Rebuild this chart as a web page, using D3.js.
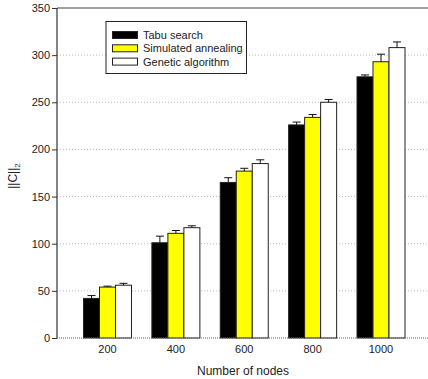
<!DOCTYPE html>
<html>
<head>
<meta charset="utf-8">
<script src="https://cdn.jsdelivr.net/npm/d3@7"></script>
<style>
  body { margin: 0; background: #fff; }
  svg { display: block; font-family: Arial, "Liberation Sans", sans-serif; }
</style>
</head>
<body>
<div id="chart"></div>
<script>
const nodes = ["200", "400", "600", "800", "1000"];
const methods = ["Tabu search", "Simulated annealing", "Genetic algorithm"];
const tabu = [42, 101, 165, 226, 277];
const annealing = [54, 111, 177, 234, 293];
const genetic = [56, 117, 185, 250, 308];
const tabuErr = [3, 7, 5, 3, 2];
const annealingErr = [1, 3, 3, 3, 8];
const geneticErr = [2, 2, 4, 3, 6];
const yTicks = [0, 50, 100, 150, 200, 250, 300, 350];
const colors = ["#000000", "#ffff00", "#ffffff"];

const W = 428, H = 379;
const plot = { left: 57, top: 8, right: 428, bottom: 338 };

const svg = d3.select("#chart").append("svg")
  .attr("width", W).attr("height", H);

const y = d3.scaleLinear().domain([0, 350]).range([plot.bottom, plot.top]);
const xc = d3.scalePoint().domain(nodes).range([107.5, 381]);
const xs = d3.scaleBand().domain(methods).range([-24, 24]);

// grid
svg.append("g").selectAll("line")
  .data(yTicks.filter(t => t > 0 && t < 350))
  .join("line")
  .attr("x1", plot.left).attr("x2", plot.right)
  .attr("y1", d => y(d)).attr("y2", d => y(d))
  .attr("stroke", "#bbb").attr("stroke-dasharray", "1,2");

// y axis
const yAxis = svg.append("g")
  .attr("transform", `translate(${plot.left},0)`)
  .call(d3.axisLeft(y).tickValues(yTicks).tickSize(5).tickPadding(2));
yAxis.select(".domain").remove();
yAxis.selectAll("line").attr("stroke", "#333");
yAxis.selectAll("text").attr("font-size", 11).attr("fill", "#222")
  .attr("font-family", "Arial, 'Liberation Sans', sans-serif");

// frame
svg.append("line").attr("x1", plot.left).attr("x2", plot.left).attr("y1", plot.top).attr("y2", plot.bottom)
  .attr("stroke", "#333").attr("stroke-width", 1.2);
svg.append("line").attr("x1", plot.left).attr("x2", plot.right).attr("y1", plot.top).attr("y2", plot.top)
  .attr("stroke", "#444").attr("stroke-width", 1.2);

const series = [tabu, annealing, genetic];
const errs = [tabuErr, annealingErr, geneticErr];
const data = [];
nodes.forEach((n, i) => {
  methods.forEach((m, j) => {
    data.push({ n, m, j, v: series[j][i], e: errs[j][i] });
  });
});

const bars = svg.append("g");
bars.selectAll("rect")
  .data(data)
  .join("rect")
  .attr("x", d => xc(d.n) + xs(d.m))
  .attr("y", d => y(d.v))
  .attr("width", xs.bandwidth())
  .attr("height", d => plot.bottom - y(d.v))
  .attr("fill", d => colors[d.j])
  .attr("stroke", "#222").attr("stroke-width", 1);

// error bars (upper only)
const eb = svg.append("g").attr("stroke", "#111").attr("stroke-width", 1);
eb.selectAll("line.v")
  .data(data).join("line").attr("class", "v")
  .attr("x1", d => xc(d.n) + xs(d.m) + xs.bandwidth() / 2)
  .attr("x2", d => xc(d.n) + xs(d.m) + xs.bandwidth() / 2)
  .attr("y1", d => y(d.v)).attr("y2", d => y(d.v + d.e));
eb.selectAll("line.c")
  .data(data).join("line").attr("class", "c")
  .attr("x1", d => xc(d.n) + xs(d.m) + xs.bandwidth() / 2 - 4)
  .attr("x2", d => xc(d.n) + xs(d.m) + xs.bandwidth() / 2 + 4)
  .attr("y1", d => y(d.v + d.e)).attr("y2", d => y(d.v + d.e));

// bottom dotted baseline
svg.append("line").attr("x1", plot.left).attr("x2", plot.right).attr("y1", plot.bottom).attr("y2", plot.bottom)
  .attr("stroke", "#666").attr("stroke-width", 1.2).attr("stroke-dasharray", "1,1");

// x labels
svg.append("g").selectAll("text")
  .data(nodes).join("text")
  .attr("x", d => xc(d)).attr("y", 353)
  .attr("text-anchor", "middle").attr("font-size", 11).attr("fill", "#222")
  .text(d => d);

svg.append("text").attr("x", 243).attr("y", 375)
  .attr("text-anchor", "middle").attr("font-size", 12).attr("fill", "#222")
  .text("Number of nodes");

const yl = svg.append("text")
  .attr("transform", "translate(17,176) rotate(-90)")
  .attr("text-anchor", "middle").attr("font-size", 12).attr("fill", "#222");
yl.append("tspan").text("||C||");
yl.append("tspan").attr("font-size", 8).attr("dy", 3).text("2");

// legend
const lg = svg.append("g");
lg.append("rect").attr("x", 106).attr("y", 21.5).attr("width", 140.5).attr("height", 52)
  .attr("fill", "#fff").attr("stroke", "#222").attr("stroke-width", 1);
methods.forEach((m, j) => {
  const yy = 31.5 + j * 13.3;
  lg.append("rect").attr("x", 112.5).attr("y", yy).attr("width", 25).attr("height", 7)
    .attr("fill", colors[j]).attr("stroke", "#222").attr("stroke-width", 1);
  lg.append("text").attr("x", 143).attr("y", yy + 7.5)
    .attr("font-size", 11).attr("fill", "#222").text(m);
});
</script>
</body>
</html>
